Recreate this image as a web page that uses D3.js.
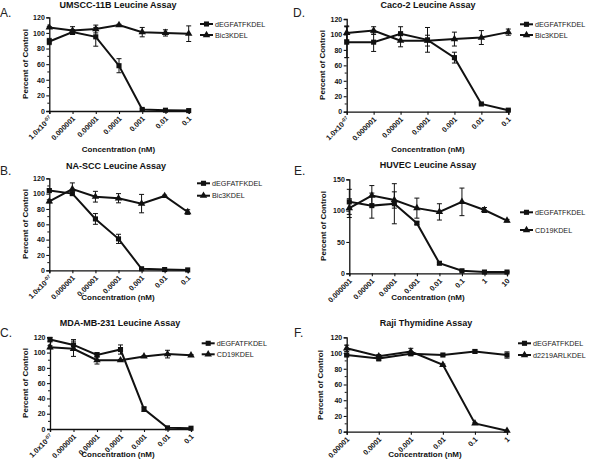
<!DOCTYPE html>
<html><head><meta charset="utf-8">
<script src="https://cdn.jsdelivr.net/npm/d3@7"></script>
<style>
html,body{margin:0;padding:0;background:#fff;}
svg{display:block;font-family:"Liberation Sans",Arial,sans-serif;}
</style></head>
<body>
<svg id="chart" width="600" height="468"></svg>
<script>
// ---------- data ----------
const catsLow = ["1.0x10^-07","0.000001","0.00001","0.0001","0.001","0.01","0.1"];
const catsHUVEC = ["0.000001","0.00001","0.0001","0.001","0.01","0.1","1","10"];
const catsRaji = ["0.00001","0.0001","0.001","0.01","0.1","1"];

const A_dEGF = [89,101,95,58,2,1,0.5];
const A_dEGF_err = [4,3,12,9,1,0.5,0.5];
const A_bic3 = [107,103,105,110,101,100,99];
const A_bic3_err = [1,5,5,1,6,4,10];

const B_dEGF = [104,100,67,41,2,1,0.5];
const B_dEGF_err = [2,2,7,6,1,0.5,0.5];
const B_bic3 = [90,106,96,94,87,97,76];
const B_bic3_err = [2,8,7,6,12,1,3];

const C_dEGF = [117,110,97,104,26,1.5,1];
const C_dEGF_err = [3,7,3,6,3,0.5,0.5];
const C_cd19 = [107,105,90,90,95,98,96.5];
const C_cd19_err = [2,10,5,1,1,5,1];

const D_dEGF = [90,90,101,93,70,10,2];
const D_dEGF_err = [20,12,9,16,7,1,1];
const D_bic3 = [102,105,92,92,94,96,103];
const D_bic3_err = [9,5,8,7,9,9,4];

const E_dEGF = [114,108,111,80,16,4,2,2];
const E_dEGF_err = [20,20,32,2,2,1,1,1];
const E_cd19 = [104,124,117,104,98,114,101,84];
const E_cd19_err = [15,16,13,16,13,22,4,2];

const F_dEGF = [97.5,93,99,97.5,102,97.5];
const F_dEGF_err = [1,3,2,1,2,4];
const F_d2219 = [106,96,102,85,10.6,1.3];
const F_d2219_err = [4,2,4,1,1,0.5];

const yTicks120 = [0,20,40,60,80,100,120];
const yTicks150 = [0,50,100,150];

// ---------- panel layouts ----------
const panels = [
 {letter:"A.", lx:0, ly:16.7, title:"UMSCC-11B Leucine Assay", tx:118, ty:7.5,
  x0:49.3, x1:188.7, yT:17.3, yB:111, ymax:120, ticks:yTicks120, minor:10, cats:catsLow,
  s:[{name:"dEGFATFKDEL",v:A_dEGF,e:A_dEGF_err,m:"sq"},{name:"Bic3KDEL",v:A_bic3,e:A_bic3_err,m:"tri"}],
  legX:200, legY:24, legDy:11, xtx:118.5, xty:151.7, ylx:25.5, yly:64},
 {letter:"B.", lx:0, ly:175, title:"NA-SCC Leucine Assay", tx:116, ty:168.5,
  x0:49.3, x1:187.7, yT:178.3, yB:270.3, ymax:120, ticks:yTicks120, minor:10, cats:catsLow,
  s:[{name:"dEGFATFKDEL",v:B_dEGF,e:B_dEGF_err,m:"sq"},{name:"Bic3KDEL",v:B_bic3,e:B_bic3_err,m:"tri"}],
  legX:197, legY:183.3, legDy:12.4, xtx:118, xty:300, ylx:25.5, yly:224},
 {letter:"C.", lx:0, ly:336.7, title:"MDA-MB-231 Leucine Assay", tx:120, ty:326,
  x0:50, x1:191, yT:337.3, yB:429, ymax:120, ticks:yTicks120, minor:10, cats:catsLow,
  s:[{name:"dEGFATFKDEL",v:C_dEGF,e:C_dEGF_err,m:"sq"},{name:"CD19KDEL",v:C_cd19,e:C_cd19_err,m:"tri"}],
  legX:201.7, legY:343.3, legDy:11, xtx:118, xty:456.7, ylx:25.5, yly:383},
 {letter:"D.", lx:293, ly:16.7, title:"Caco-2 Leucine Assay", tx:428, ty:7.5,
  x0:346.7, x1:508.3, yT:19, yB:111.7, ymax:120, ticks:yTicks120, minor:10, cats:catsLow,
  s:[{name:"dEGFATFKDEL",v:D_dEGF,e:D_dEGF_err,m:"sq"},{name:"Bic3KDEL",v:D_bic3,e:D_bic3_err,m:"tri"}],
  legX:520, legY:24.3, legDy:10.7, xtx:428, xty:151.7, ylx:322, yly:65},
 {letter:"E.", lx:294, ly:175, title:"HUVEC Leucine Assay", tx:428, ty:168.3,
  x0:349.3, x1:507, yT:179.3, yB:273.3, ymax:150, ticks:yTicks150, minor:null, cats:catsHUVEC,
  s:[{name:"dEGFATFKDEL",v:E_dEGF,e:E_dEGF_err,m:"sq"},{name:"CD19KDEL",v:E_cd19,e:E_cd19_err,m:"tri"}],
  legX:520, legY:212.3, legDy:17.7, xtx:428, xty:300, ylx:323, yly:226},
 {letter:"F.", lx:294, ly:336.7, title:"Raji Thymidine Assay", tx:426, ty:326,
  x0:346.7, x1:507, yT:337.3, yB:431.7, ymax:120, ticks:yTicks120, minor:10, cats:catsRaji,
  s:[{name:"dEGFATFKDEL",v:F_dEGF,e:F_dEGF_err,m:"sq"},{name:"d2219ARLKDEL",v:F_d2219,e:F_d2219_err,m:"tri"}],
  legX:518, legY:343.3, legDy:11.7, xtx:425, xty:456.7, ylx:320, yly:385}
];

const svg = d3.select("#chart");
const INK = "#111";
const sqSym = d3.symbol().type(d3.symbolSquare).size(26);
const triSym = d3.symbol().type(d3.symbolTriangle).size(24);

panels.forEach(p => {
  const g = svg.append("g");
  const x = d3.scalePoint().domain(p.cats).range([p.x0, p.x1]).padding(0);
  const y = d3.scaleLinear().domain([0, p.ymax]).range([p.yB, p.yT]);

  // letter
  g.append("text").attr("x", p.lx).attr("y", p.ly).attr("font-size", 12)
    .attr("fill", "#222").text(p.letter);
  // title
  g.append("text").attr("x", p.tx).attr("y", p.ty).attr("text-anchor", "middle")
    .attr("font-size", 9).attr("font-weight", "bold").attr("fill", INK).text(p.title);

  // y axis
  const yAxis = d3.axisLeft(y).tickValues(p.ticks).tickSize(3).tickPadding(1.5);
  const ya = g.append("g").attr("transform", `translate(${p.x0},0)`).call(yAxis);
  ya.select(".domain").attr("stroke", INK).attr("stroke-width", 1.3);
  ya.selectAll(".tick line").attr("stroke", INK).attr("stroke-width", 1.1);
  ya.selectAll(".tick text").attr("font-size", 7).attr("font-weight", "bold")
    .attr("fill", INK).attr("font-family", "Liberation Sans, Arial, sans-serif");
  if (p.minor) {
    const minorVals = d3.range(p.minor, p.ymax, p.minor * 2);
    g.selectAll(".minor").data(minorVals).enter().append("line")
      .attr("x1", p.x0 - 2).attr("x2", p.x0).attr("y1", d => y(d)).attr("y2", d => y(d))
      .attr("stroke", INK).attr("stroke-width", 1);
  }

  // x axis
  const xAxis = d3.axisBottom(x).tickSize(3).tickFormat("");
  const xa = g.append("g").attr("transform", `translate(0,${p.yB})`).call(xAxis);
  xa.select(".domain").attr("stroke", INK).attr("stroke-width", 1.3);
  xa.selectAll(".tick line").attr("stroke", INK).attr("stroke-width", 1.1);
  xa.selectAll(".tick").each(function(d) {
    const t = d3.select(this).append("text")
      .attr("transform", "translate(-1,4.5) rotate(-45)")
      .attr("text-anchor", "end").attr("dy", "0.7em")
      .attr("font-size", 7.3).attr("font-weight", "bold").attr("fill", INK);
    if (d.indexOf("^") >= 0) {
      const parts = d.split("^");
      t.append("tspan").text(parts[0]);
      t.append("tspan").attr("font-size", 5).attr("dy", "-0.5em").text(parts[1]);
    } else {
      t.text(d);
    }
  });

  // axis titles
  g.append("text").attr("x", p.xtx).attr("y", p.xty).attr("text-anchor", "middle")
    .attr("font-size", 8).attr("font-weight", "bold").attr("fill", INK).text("Concentration (nM)");
  g.append("text").attr("transform", `translate(${p.ylx},${p.yly}) rotate(-90)`)
    .attr("text-anchor", "middle").attr("dy", "0.35em")
    .attr("font-size", 8).attr("font-weight", "bold").attr("fill", INK).text("Percent of Control");

  // series
  p.s.forEach((s, si) => {
    const pts = p.cats.map((c, i) => ({c, v: s.v[i], e: s.e[i]}));
    const sg = g.append("g");
    // error bars
    const eb = sg.selectAll(".eb").data(pts.filter(d => d.e > 0.8)).enter().append("g");
    eb.append("line").attr("x1", d => x(d.c)).attr("x2", d => x(d.c))
      .attr("y1", d => y(d.v - d.e)).attr("y2", d => y(Math.min(d.v + d.e, p.ymax + 20)))
      .attr("stroke", INK).attr("stroke-width", 1);
    [-1, 1].forEach(sign => {
      eb.append("line").attr("x1", d => x(d.c) - 2.5).attr("x2", d => x(d.c) + 2.5)
        .attr("y1", d => y(d.v + sign * d.e)).attr("y2", d => y(d.v + sign * d.e))
        .attr("stroke", INK).attr("stroke-width", 1);
    });
    // line
    sg.append("path").datum(pts)
      .attr("d", d3.line().x(d => x(d.c)).y(d => y(d.v)))
      .attr("fill", "none").attr("stroke", INK).attr("stroke-width", 2);
    // markers
    sg.selectAll(".mk").data(pts).enter().append("path")
      .attr("transform", d => `translate(${x(d.c)},${y(d.v)})`)
      .attr("d", s.m === "sq" ? sqSym : triSym).attr("fill", INK);

    // legend
    const ly = p.legY + si * p.legDy;
    g.append("line").attr("x1", p.legX).attr("x2", p.legX + 13).attr("y1", ly).attr("y2", ly)
      .attr("stroke", INK).attr("stroke-width", 2);
    g.append("path").attr("transform", `translate(${p.legX + 6.5},${ly})`)
      .attr("d", s.m === "sq" ? sqSym : triSym).attr("fill", INK);
    g.append("text").attr("x", p.legX + 15).attr("y", ly).attr("dy", "0.35em")
      .attr("font-size", 7.2).attr("fill", "#222").text(s.name);
  });
});
</script>
</body></html>
